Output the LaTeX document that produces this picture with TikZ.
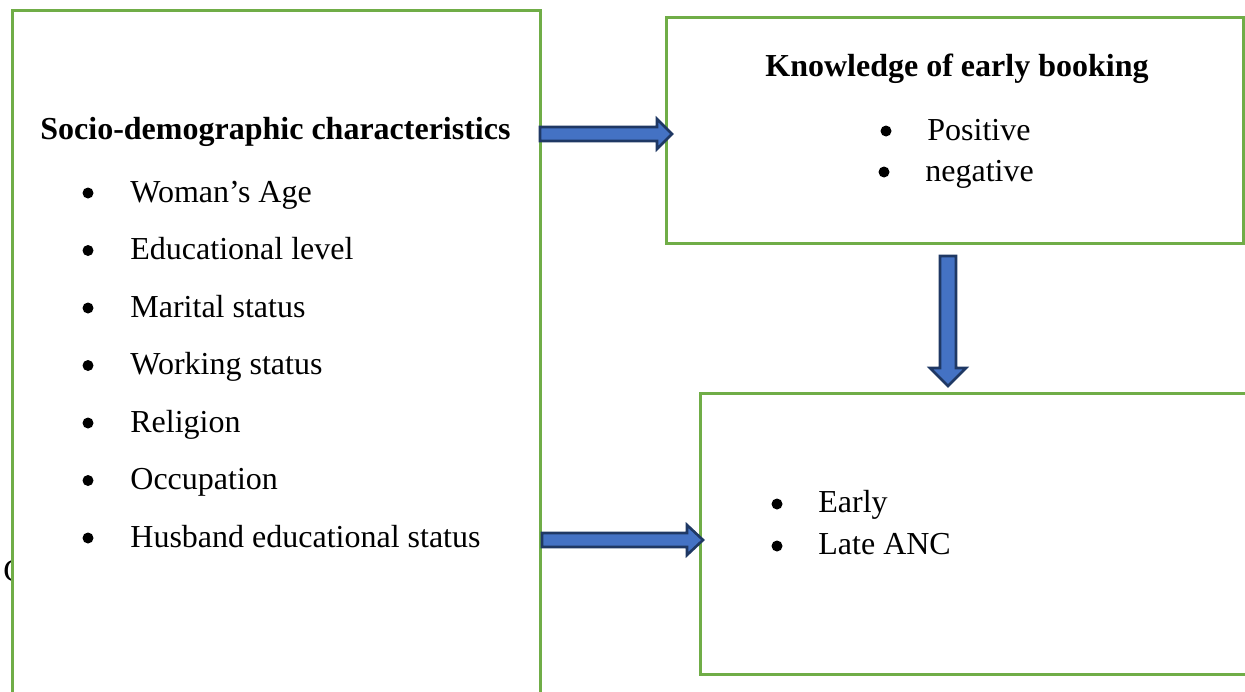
\documentclass[tikz,border=0pt]{standalone}
\usepackage{fontspec}
\setmainfont{Liberation Serif}
\definecolor{boxgreen}{HTML}{70AD47}
\definecolor{arrowblue}{HTML}{4472C4}
\definecolor{arrowborder}{HTML}{1F3864}
\begin{document}
\begin{tikzpicture}[x=0.5pt,y=-0.5pt,
  font=\fontsize{16}{19}\selectfont,
  box/.style={draw=boxgreen, line width=1.5pt, fill=white, inner sep=0pt, rectangle},
  txt/.style={anchor=base west, inner sep=0pt},
  ttl/.style={anchor=base west, inner sep=0pt, font=\fontsize{16}{19}\selectfont\bfseries},
  bul/.style={circle, fill=black, inner sep=0pt, minimum size=5.5pt},
  blockarrow/.style={fill=arrowblue, draw=arrowborder, line width=1.3pt, line join=miter}]
\useasboundingbox (0,0) rectangle (1245,691);
% partly hidden character behind the left box
\node[txt] (cchar) at (3,581) {C};
% boxes
\node[box, minimum width=264pt, minimum height=347.5pt] (socio) at (276,357.5) {};
\node[box, minimum width=288.5pt, minimum height=113pt] (know) at (954.5,130) {};
\node[box, minimum width=280pt, minimum height=140.5pt] (anc) at (980,533.5) {};
% left box text
\node[ttl] (t1) at (40,139) {Socio-demographic characteristics};
\foreach \i/\t in {0/Woman’s Age,1/Educational level,2/Marital status,3/Working status,4/Religion,5/Occupation,6/Husband educational status}{
  \node[bul] (lb\i) at (88,193+57.5*\i) {};
  \node[txt] (lt\i) at (130,202+57.5*\i) {\t};
}
% top right box text
\node[ttl] (t2) at (765,76) {Knowledge of early booking};
\node[bul] (kb1) at (886,131) {};
\node[txt] (kt1) at (927,140) {Positive};
\node[bul] (kb2) at (884,172) {};
\node[txt] (kt2) at (925,181) {negative};
% bottom right box text
\node[bul] (ab1) at (777,504) {};
\node[txt] (at1) at (818,512) {Early};
\node[bul] (ab2) at (777,546) {};
\node[txt] (at2) at (818,554) {Late ANC};
% block arrows
\draw[blockarrow] (540,127) -- (657,127) -- (657,119) -- (672,134) -- (657,149) -- (657,141) -- (540,141) -- cycle;
\draw[blockarrow] (542,533) -- (687,533) -- (687,525) -- (703,540) -- (687,555) -- (687,547) -- (542,547) -- cycle;
\draw[blockarrow] (940,256) -- (956,256) -- (956,368) -- (966,368) -- (948,386) -- (930,368) -- (940,368) -- cycle;
\end{tikzpicture}
\end{document}
